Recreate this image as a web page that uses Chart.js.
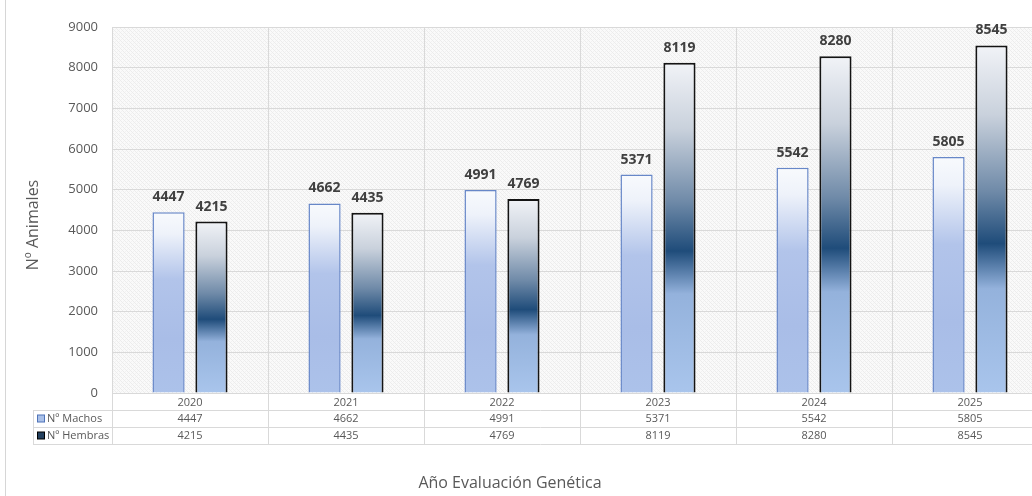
<!DOCTYPE html>
<html>
<head>
<meta charset="utf-8">
<script src="https://cdn.jsdelivr.net/npm/chart.js@4.4.1/dist/chart.umd.min.js"></script>
<style>
  html, body { margin: 0; padding: 0; background: #fff; overflow: hidden; }
  #wrap { width: 1032px; height: 496px; overflow: hidden; position: relative; }
  canvas { display: block; }
</style>
</head>
<body>
<div id="wrap"><canvas id="myChart" width="1048" height="496"></canvas></div>
<script>
const years = ['2020', '2021', '2022', '2023', '2024', '2025'];
const machos = [4447, 4662, 4991, 5371, 5542, 5805];
const hembras = [4215, 4435, 4769, 8119, 8280, 8545];
const seriesNames = ['Nº Machos', 'Nº Hembras'];
const xTitle = 'Año Evaluación Genética';
const yTitle = 'Nº Animales';
const yMax = 9000;
const yStep = 1000;

const FONT = "'Open Sans', 'Noto Sans', sans-serif";
const GRID = '#d9d9d9';
const TEXT = '#595959';

// fine cross hatch for the plot background
const hatch = (() => {
  const c = document.createElement('canvas');
  c.width = 4; c.height = 4;
  const g = c.getContext('2d');
  g.fillStyle = '#fafafa';
  g.fillRect(0, 0, 4, 4);
  g.fillStyle = '#ececec';
  g.fillRect(0, 0, 1, 1);
  g.fillRect(1, 1, 1, 1);
  g.fillRect(2, 2, 1, 1);
  g.fillRect(3, 3, 1, 1);
  g.fillStyle = '#f2f2f2';
  g.fillRect(3, 1, 1, 1);
  g.fillRect(1, 3, 1, 1);
  return g.createPattern(c, 'repeat');
})();

// vertical gradient for each bar, from its top down to the zero line
function barFill(stops, fallback) {
  return (context) => {
    const chart = context.chart;
    if (!chart.chartArea || context.type !== 'data') return fallback;
    const y = chart.scales.y;
    const top = y.getPixelForValue(context.raw);
    const bottom = y.getPixelForValue(0);
    const g = chart.ctx.createLinearGradient(0, top, 0, bottom);
    stops.forEach(([p, c]) => g.addColorStop(p, c));
    return g;
  };
}

const machosStops = [[0, '#f8fafd'], [0.12, '#eef2fa'], [0.37, '#b2c4ea'], [0.7, '#a9bde7'], [1, '#acc2ea']];
const hembrasStops = [[0, '#f1f3f7'], [0.2, '#c9d1dc'], [0.42, '#6f8aa8'], [0.57, '#1f4c7a'], [0.7, '#94b2dc'], [1, '#a9c5ec']];

const backgroundPlugin = {
  id: 'hatchBg',
  beforeDraw(chart) {
    const { ctx, chartArea: a } = chart;
    ctx.save();
    ctx.fillStyle = hatch;
    ctx.fillRect(a.left, a.top, a.right - a.left, a.bottom - a.top);
    // outer frame line on the left
    ctx.strokeStyle = '#d6d6d6';
    ctx.beginPath();
    ctx.moveTo(5.5, 0); ctx.lineTo(5.5, chart.height);
    ctx.stroke();
    ctx.restore();
  }
};

const valueLabels = {
  id: 'valueLabels',
  afterDatasetsDraw(chart) {
    const ctx = chart.ctx;
    ctx.save();
    ctx.font = 'bold 14px ' + FONT;
    ctx.fillStyle = '#404040';
    ctx.textAlign = 'center';
    ctx.textBaseline = 'bottom';
    chart.data.datasets.forEach((ds, di) => {
      chart.getDatasetMeta(di).data.forEach((el, i) => {
        ctx.fillText(String(ds.data[i]), el.x, el.y - 8);
      });
    });
    ctx.restore();
  }
};

const dataTable = {
  id: 'dataTable',
  afterDraw(chart) {
    const { ctx, chartArea: a, scales: { x } } = chart;
    const rowH = 17;
    const top = a.bottom;
    const left = 33;
    const rows = [
      { label: seriesNames[0], values: machos, fill: '#a9c0e8', stroke: '#4f73b8' },
      { label: seriesNames[1], values: hembras, fill: '#23405f', stroke: '#000' }
    ];
    const half = (x.getPixelForValue(1) - x.getPixelForValue(0)) / 2;
    ctx.save();
    ctx.strokeStyle = GRID;
    ctx.lineWidth = 1;
    ctx.beginPath();
    for (let r = 1; r <= rows.length + 1; r++) {
      const yy = Math.round(top + r * rowH) + 0.5;
      ctx.moveTo(left, yy); ctx.lineTo(a.right, yy);
    }
    ctx.moveTo(left + 0.5, top + rowH); ctx.lineTo(left + 0.5, top + rowH * 3);
    for (let i = 0; i <= years.length; i++) {
      const bx = Math.round(x.getPixelForValue(i) - half) + 0.5;
      ctx.moveTo(bx, top); ctx.lineTo(bx, top + rowH * 3);
    }
    ctx.stroke();

    ctx.font = '11px ' + FONT;
    ctx.textBaseline = 'middle';
    rows.forEach((row, r) => {
      const cy = top + rowH * (r + 1) + rowH / 2;
      ctx.fillStyle = row.fill;
      ctx.strokeStyle = row.stroke;
      ctx.fillRect(37.5, cy - 3.5, 7, 7);
      ctx.strokeRect(37.5, cy - 3.5, 7, 7);
      ctx.fillStyle = TEXT;
      ctx.textAlign = 'left';
      ctx.fillText(row.label, 47, cy);
      ctx.textAlign = 'center';
      row.values.forEach((v, i) => ctx.fillText(String(v), x.getPixelForValue(i), cy));
    });

    // axis titles
    ctx.font = '16px ' + FONT;
    ctx.fillStyle = TEXT;
    ctx.textAlign = 'center';
    ctx.fillText(xTitle, 510, 483);
    ctx.translate(33, 225);
    ctx.rotate(-Math.PI / 2);
    ctx.fillText(yTitle, 0, 0);
    ctx.restore();
  }
};

new Chart(document.getElementById('myChart'), {
  type: 'bar',
  data: {
    labels: years,
    datasets: [
      {
        label: seriesNames[0],
        data: machos,
        backgroundColor: barFill(machosStops, '#b2c6ea'),
        borderColor: '#6787c8',
        borderWidth: 1.5,
        categoryPercentage: 0.55,
        barPercentage: 0.75
      },
      {
        label: seriesNames[1],
        data: hembras,
        backgroundColor: barFill(hembrasStops, '#1f4c7a'),
        borderColor: '#141414',
        borderWidth: 2,
        categoryPercentage: 0.55,
        barPercentage: 0.75
      }
    ]
  },
  options: {
    responsive: false,
    animation: false,
    layout: { padding: { top: 27, left: 0, right: 0, bottom: 0 } },
    plugins: {
      legend: { display: false },
      tooltip: { enabled: false }
    },
    scales: {
      x: {
        afterFit(scale) { scale.height = 103; },
        grid: { color: GRID, offset: true, drawTicks: false },
        border: { color: GRID },
        ticks: { color: TEXT, font: { family: FONT, size: 11 }, padding: 3 }
      },
      y: {
        min: 0,
        max: yMax,
        afterFit(scale) { scale.width = 112; },
        grid: { color: GRID, drawTicks: false },
        border: { color: GRID },
        ticks: {
          stepSize: yStep,
          color: TEXT,
          font: { family: FONT, size: 13 },
          padding: 14,
          callback: (v) => String(v)
        }
      }
    }
  },
  plugins: [backgroundPlugin, valueLabels, dataTable]
});
</script>
</body>
</html>
